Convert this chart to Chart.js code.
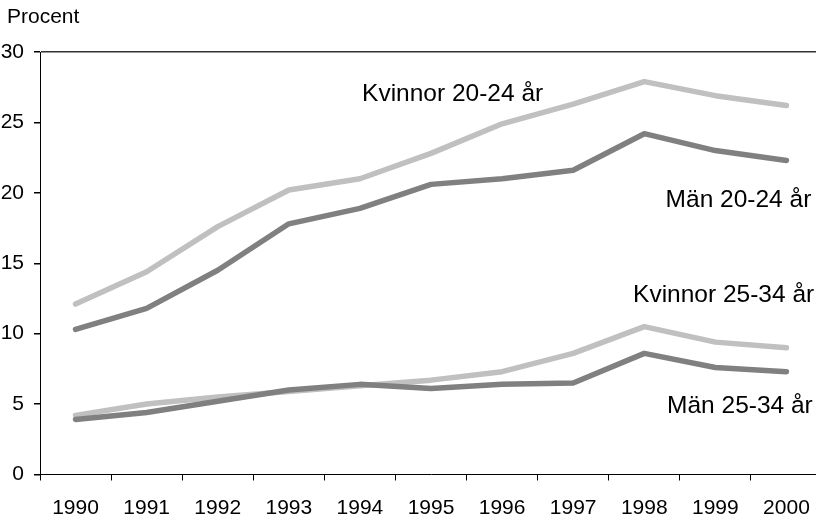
<!DOCTYPE html>
<html>
<head>
<meta charset="utf-8">
<script src="https://cdn.jsdelivr.net/npm/chart.js@4.4.1/dist/chart.umd.min.js"></script>
<style>
html,body{margin:0;padding:0;background:#fff;overflow:hidden;}
#wrap{width:830px;height:517px;}
</style>
</head>
<body>
<div id="wrap"><canvas id="chart" width="830" height="517"></canvas></div>
<script>
const years=['1990','1991','1992','1993','1994','1995','1996','1997','1998','1999','2000']
const kvinnor2024=[12.1,14.4,17.6,20.2,21.0,22.8,24.9,26.3,27.9,26.9,26.2]
const man2024=[10.3,11.8,14.5,17.8,18.9,20.6,21.0,21.6,24.2,23.0,22.3]
const kvinnor2534=[4.2,5.0,5.5,5.9,6.3,6.7,7.3,8.6,10.5,9.4,9.0]
const man2534=[3.9,4.4,5.2,6.0,6.4,6.1,6.4,6.5,8.6,7.6,7.3]
const yTicks=[0,5,10,15,20,25,30]

const light='#c0c0c0'
const dark='#808080'
const font='"Liberation Sans", Arial, sans-serif'

// text labels next to the lines, placed in data units
const notes=[
    {text:'Kvinnor 20-24 år',x:4.03,y:26.97,align:'left'},
    {text:'Män 20-24 år',x:10.35,y:19.5,align:'right'},
    {text:'Kvinnor 25-34 år',x:10.39,y:12.76,align:'right'},
    {text:'Män 25-34 år',x:10.37,y:4.87,align:'right'}
]

const textPlugin={
    id:'texts',
    afterDatasetsDraw(c){
        const ctx=c.ctx
        ctx.save()
        ctx.fillStyle='#000'
        ctx.textBaseline='middle'
        ctx.font='21px '+font
        ctx.textAlign='left'
        ctx.fillText('Procent',7,17)
        ctx.font='24.5px '+font
        notes.forEach(n=>{
            ctx.textAlign=n.align
            ctx.fillText(n.text,c.scales.x.getPixelForValue(n.x),c.scales.y.getPixelForValue(n.y))
        })
        ctx.restore()
    }
}

function line(label,data,color,order){
    return {
        label:label,
        data:data,
        borderColor:color,
        backgroundColor:color,
        borderWidth:5.5,
        pointRadius:0,
        tension:0,
        borderCapStyle:'round',
        borderJoinStyle:'round',
        order:order
    }
}

const chart=document.querySelector('#chart').getContext('2d')

new Chart(chart,{
    type:'line',
    data:{
        labels:years,
        datasets:[
            line('Kvinnor 20-24 år',kvinnor2024,light,1),
            line('Män 20-24 år',man2024,dark,0),
            line('Kvinnor 25-34 år',kvinnor2534,light,1),
            line('Män 25-34 år',man2534,dark,0)
        ]
    },
    options:{
        responsive:false,
        animation:false,
        layout:{padding:{top:52,right:8,left:0,bottom:0}},
        plugins:{legend:{display:false},tooltip:{enabled:false}},
        scales:{
            x:{
                offset:true,
                grid:{offset:true,drawOnChartArea:false,tickLength:6,tickColor:'#000'},
                border:{color:'#000',width:1},
                ticks:{color:'#000',font:{family:font,size:21},padding:15,maxRotation:0},
                afterFit(s){s.height=42.5}
            },
            y:{
                min:0,
                max:30,
                afterBuildTicks(s){s.ticks=yTicks.map(v=>({value:v}))},
                grid:{
                    color:c=>c.tick&&c.tick.value===30?'#333':'rgba(0,0,0,0)',
                    lineWidth:1.5,
                    tickColor:'#000',
                    tickLength:6
                },
                border:{color:'#000',width:1},
                ticks:{color:'#000',font:{family:font,size:21},padding:10},
                afterFit(s){s.width=40}
            }
        }
    },
    plugins:[textPlugin]
})
</script>
</body>
</html>
